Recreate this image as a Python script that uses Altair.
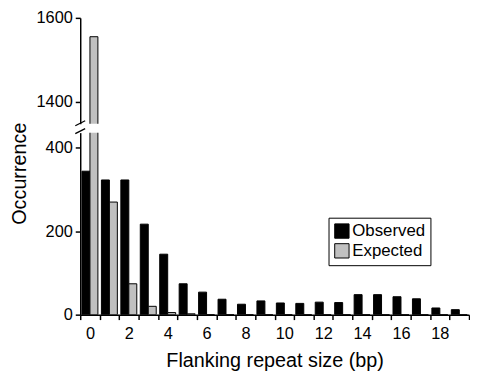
import altair as alt
import pandas as pd

sizes = list(range(20))
observed = [344, 323, 323, 217, 145, 74, 54, 37, 25, 33, 28, 27, 30, 29, 48, 48, 43, 38, 16, 12]
expected = [1555, 270, 74, 20, 5, 2, 0, 0, 0, 0, 0, 0, 0, 0, 0, 0, 0, 0, 0, 0]
series_names = ["Observed", "Expected"]
series_colors = ["#000000", "#c0c0c0"]
lower_ticks = [0, 200, 400]
upper_ticks = [1400, 1600]

rows = []
for i, s in enumerate(sizes):
    rows.append({"size": s, "series": "Observed", "count": observed[i]})
    rows.append({"size": s, "series": "Expected", "count": expected[i]})
df = pd.DataFrame(rows)

FONT = "Liberation Sans"
W = 393
H1 = 107
H2 = 184
UPPER_MIN = 1347.3

x_scale = alt.Scale(domain=sizes, paddingInner=0, paddingOuter=0)
off = alt.XOffset("series:N", sort=series_names,
                  scale=alt.Scale(domain=series_names, paddingInner=0, paddingOuter=0.22))
color_scale = alt.Scale(domain=series_names, range=series_colors)

bars_top = alt.Chart(df).transform_filter(alt.datum.count > UPPER_MIN).mark_bar(
    stroke="black", strokeWidth=1, clip=True).encode(
    x=alt.X("size:O", scale=x_scale, axis=None),
    xOffset=off,
    y=alt.Y("count:Q", stack=None,
            scale=alt.Scale(domain=[UPPER_MIN, 1600], nice=False, zero=False),
            axis=alt.Axis(values=upper_ticks, format="d", title=None, tickSize=5, labelPadding=3,
                          labelFontSize=16.5, grid=False)),
    y2=alt.datum(0),
    color=alt.Color("series:N", scale=color_scale, legend=None),
)
slash = pd.DataFrame({"k": [0]})
slash_top = alt.Chart(slash).mark_rule(color="black", strokeWidth=1.3, clip=False).encode(
    x=alt.value(-5), x2=alt.value(5), y=alt.value(H1 + 2), y2=alt.value(H1 - 3))
top = alt.layer(bars_top, slash_top).properties(width=W, height=H1)

bars_bot = alt.Chart(df).mark_bar(stroke="black", strokeWidth=1, clip=True).encode(
    x=alt.X("size:O", scale=x_scale,
            axis=alt.Axis(title="Flanking repeat size (bp)", tickBand="extent", labelAngle=0,
                          labelExpr="datum.value % 2 == 0 ? datum.label : ''",
                          labelOverlap=False, tickSize=5, labelPadding=6,
                          labelFontSize=16.5, titleFontSize=20, titlePadding=9)),
    xOffset=off,
    y=alt.Y("count:Q", stack=None,
            scale=alt.Scale(domain=[0, 436.5], nice=False),
            axis=alt.Axis(values=lower_ticks, format="d", title="Occurrence", tickSize=5,
                          labelPadding=3, labelFontSize=16.5, titleFontSize=20, grid=False,
                          titleX=-61, titleY=41, titleBaseline="middle")),
    color=alt.Color("series:N", scale=color_scale,
                    legend=alt.Legend(title=None, orient="none", legendX=251, legendY=86,
                                      symbolType="square", symbolSize=210,
                                      symbolStrokeColor="black", symbolStrokeWidth=1,
                                      labelFontSize=17, labelColor="black", labelFont=FONT,
                                      strokeColor="black", fillColor="white",
                                      padding=5, rowPadding=1, labelOffset=2)),
)
slash_bot = alt.Chart(slash).mark_rule(color="black", strokeWidth=1.3, clip=False).encode(
    x=alt.value(-5), x2=alt.value(5), y=alt.value(1), y2=alt.value(-4))
bot = alt.layer(bars_bot, slash_bot).properties(width=W, height=H2)

chart = alt.vconcat(top, bot, spacing=9, bounds="flush").resolve_scale(
    y="independent").resolve_legend(color="independent").properties(
    padding={"left": 2, "top": 0, "right": 0, "bottom": 0}).configure_view(
    stroke=None).configure_axis(
    domainColor="black", domainWidth=1.5, tickColor="black", tickWidth=1.5,
    labelColor="black", titleColor="black", labelFont=FONT, titleFont=FONT,
    titleFontWeight="normal")

chart.save("out.html", embed_options={"renderer": "svg", "actions": False})
